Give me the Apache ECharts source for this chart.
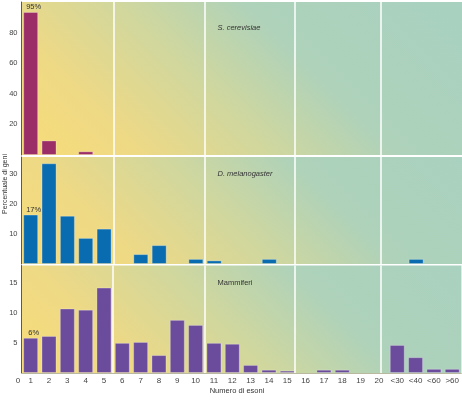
<!DOCTYPE html>
<html>
<head>
<meta charset="utf-8">
<script src="https://cdn.jsdelivr.net/npm/echarts@6/dist/echarts.min.js"></script>
<style>
html,body{margin:0;padding:0;background:#fff;}
#chart{width:462px;height:403px;}
</style>
</head>
<body>
<div id="chart"></div>
<script>
const categories = ['1','2','3','4','5','6','7','8','9','10','11','12','13','14','15','16','17','18','19','20','<30','<40','<60','>60'];
const yeast      = [93.5, 9.5, 0, 2.4, 0, 0, 0, 0, 0, 0, 0, 0, 0, 0, 0, 0, 0, 0, 0, 0, 0, 0, 0, 0];
const fly        = [16.5, 33.6, 16.1, 8.7, 11.8, 0, 3.3, 6.3, 0, 1.7, 1.2, 0, 0, 1.7, 0, 0, 0, 0, 0, 0, 0, 1.7, 0, 0];
const mammals    = [5.9, 6.2, 10.8, 10.6, 14.3, 5.05, 5.2, 3.0, 8.9, 8.05, 5.05, 4.9, 1.35, 0.55, 0.4, 0, 0.55, 0.55, 0, 0, 4.7, 2.65, 0.7, 0.7];
const panelNames = ['S. cerevisiae', 'D. melanogaster', 'Mammiferi'];
const firstBarLabels = ['95%', '17%', '6%'];
const yMax = [100, 35.7, 18];
const yInterval = [20, 10, 5];
const dividers = [5, 10, 14.9, 19.6];
const yTitle = 'Percentuale di geni';
const xTitle = 'Numero di esoni';

const FONT = 'Liberation Sans, Arial, sans-serif';
const barColors = ['#9c2e67', '#0a6cb0', '#6b4b9c'];
const grids = [
  {top: 2, height: 153},
  {top: 157, height: 107},
  {top: 265.5, height: 107.5}
];
const LEFT = 21.5;

function bg(g) {
  const yb = g.top + g.height, D = 300;
  return {
    type: 'linear', x: LEFT, y: yb, x2: LEFT + D, y2: yb - D, global: true,
    colorStops: [
      {offset: 0, color: '#f7dc78'},
      {offset: 0.2, color: '#eed985'},
      {offset: 0.42, color: '#d0d79e'},
      {offset: 0.63, color: '#aed2ba'},
      {offset: 1, color: '#a8d1c1'}
    ]
  };
}

const datasets = [yeast, fly, mammals];
const option = {
  animation: false,
  textStyle: {fontFamily: FONT},
  grid: grids.map(g => ({
    left: LEFT, right: 0, top: g.top, height: g.height,
    show: true, borderWidth: 0, backgroundColor: bg(g)
  })),
  xAxis: [
    ...grids.map((g, i) => ({
      type: 'category', gridIndex: i, data: categories,
      axisLine: {show: i === 2, lineStyle: {color: '#b9b9a0', width: 1}},
      axisTick: {show: false},
      axisLabel: {show: i === 2, fontSize: 8, color: '#444', margin: 4, interval: 0, fontFamily: FONT},
      splitLine: {show: false}
    })),
    ...grids.map((g, i) => ({
      type: 'value', gridIndex: i, min: 0, max: categories.length, show: false
    }))
  ],
  yAxis: grids.map((g, i) => ({
    type: 'value', gridIndex: i, min: 0, max: yMax[i], interval: yInterval[i],
    axisLine: {show: true, lineStyle: {color: '#5a5a5a', width: 1}},
    axisTick: {show: false},
    splitLine: {show: false},
    axisLabel: {
      fontSize: 7.5, color: '#444', margin: 4, showMinLabel: false, showMaxLabel: false,
      fontFamily: FONT,
      padding: i === 0 ? [10, 0, 0, 0] : 0
    }
  })),
  series: [
    ...datasets.map((arr, i) => ({
      type: 'bar', xAxisIndex: i, yAxisIndex: i, barWidth: 15,
      itemStyle: {color: barColors[i], borderColor: 'rgba(255,255,255,0.28)', borderWidth: 1},
      data: arr.map((v, k) => {
        if (v === 0) return '-';
        if (k === 0) return {value: v, label: {show: true, position: 'top', distance: 1, formatter: firstBarLabels[i], fontSize: 7.5, color: '#333', fontFamily: FONT, offset: [3, 0]}};
        return v;
      })
    })),
    ...grids.map((g, i) => ({
      type: 'line', xAxisIndex: 3 + i, yAxisIndex: i, data: [], silent: true,
      markLine: {
        symbol: ['none', 'none'], silent: true, animation: false,
        label: {show: false},
        lineStyle: {color: '#ffffff', width: 1.5, type: 'solid'},
        data: dividers.map(d => ({xAxis: d}))
      }
    }))
  ],
  graphic: [
    ...panelNames.map((name, i) => ({
      type: 'text', left: 217.5, top: [24, 170, 278.5][i],
      style: {text: name, font: (i < 2 ? 'italic ' : '') + '7.5px ' + FONT, fill: '#333'}
    })),
    {type: 'text', x: 5, y: 184, rotation: Math.PI / 2,
      style: {text: yTitle, font: '7px ' + FONT, fill: '#333', align: 'center', verticalAlign: 'middle'}},
    {type: 'text', x: 237, y: 391,
      style: {text: xTitle, font: '7.5px ' + FONT, fill: '#333', align: 'center', verticalAlign: 'middle'}},
    {type: 'text', x: 18, y: 380.5,
      style: {text: '0', font: '8px ' + FONT, fill: '#444', align: 'center', verticalAlign: 'middle'}}
  ]
};
const chart = echarts.init(document.getElementById('chart'), null, {renderer: 'canvas'});
chart.setOption(option);
</script>
</body>
</html>
